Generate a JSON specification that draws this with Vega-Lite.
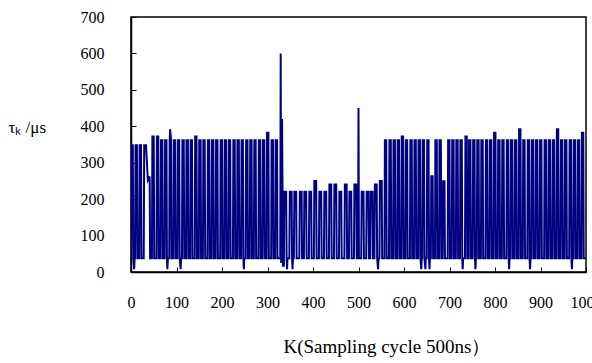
{
  "$schema": "https://vega.github.io/schema/vega-lite/v6.json",
  "autosize": {"type": "none"},
  "padding": {"left": 131, "top": 17, "right": 6, "bottom": 91},
  "width": 455,
  "height": 255,
  "background": "white",
  "view": {"stroke": "black", "strokeWidth": 1.5},
  "data": {"values": [
    {"k":0,"v":38},{"k":1,"v":348},{"k":4,"v":348},{"k":5,"v":38},{"k":7,"v":8},{"k":8,"v":38},
    {"k":9,"v":38},{"k":10,"v":348},{"k":13,"v":348},{"k":14,"v":38},
    {"k":18,"v":38},{"k":19,"v":348},{"k":22,"v":348},{"k":23,"v":38},
    {"k":28,"v":38},{"k":29,"v":348},{"k":33,"v":348},{"k":37,"v":252},{"k":41,"v":262},{"k":42,"v":38},
    {"k":46,"v":38},{"k":47,"v":372},{"k":50,"v":372},{"k":51,"v":38},
    {"k":56,"v":38},{"k":57,"v":372},{"k":60,"v":372},{"k":61,"v":38},
    {"k":65,"v":38},{"k":66,"v":362},{"k":69,"v":362},{"k":70,"v":38},
    {"k":74,"v":38},{"k":75,"v":362},{"k":78,"v":362},{"k":79,"v":38},{"k":80,"v":8},{"k":81,"v":38},
    {"k":84,"v":38},{"k":85,"v":362},{"k":86,"v":392},{"k":88,"v":362},{"k":89,"v":38},
    {"k":93,"v":38},{"k":94,"v":362},{"k":97,"v":362},{"k":98,"v":38},
    {"k":102,"v":38},{"k":103,"v":362},{"k":106,"v":362},{"k":107,"v":38},{"k":109,"v":8},{"k":110,"v":38},
    {"k":112,"v":38},{"k":113,"v":362},{"k":116,"v":362},{"k":117,"v":38},
    {"k":121,"v":38},{"k":122,"v":362},{"k":125,"v":362},{"k":126,"v":38},
    {"k":130,"v":38},{"k":131,"v":362},{"k":134,"v":362},{"k":135,"v":38},
    {"k":140,"v":38},{"k":141,"v":372},{"k":144,"v":372},{"k":145,"v":38},
    {"k":149,"v":38},{"k":150,"v":362},{"k":153,"v":362},{"k":154,"v":38},
    {"k":158,"v":38},{"k":159,"v":362},{"k":162,"v":362},{"k":163,"v":38},
    {"k":168,"v":38},{"k":169,"v":362},{"k":172,"v":362},{"k":173,"v":38},
    {"k":177,"v":38},{"k":178,"v":362},{"k":181,"v":362},{"k":182,"v":38},
    {"k":186,"v":38},{"k":187,"v":362},{"k":190,"v":362},{"k":191,"v":38},
    {"k":196,"v":38},{"k":197,"v":362},{"k":200,"v":362},{"k":201,"v":38},
    {"k":205,"v":38},{"k":206,"v":362},{"k":209,"v":362},{"k":210,"v":38},
    {"k":214,"v":38},{"k":215,"v":362},{"k":218,"v":362},{"k":219,"v":38},
    {"k":224,"v":38},{"k":225,"v":362},{"k":228,"v":362},{"k":229,"v":38},
    {"k":233,"v":38},{"k":234,"v":362},{"k":237,"v":362},{"k":238,"v":38},
    {"k":242,"v":38},{"k":243,"v":362},{"k":246,"v":362},{"k":247,"v":38},{"k":248,"v":8},{"k":249,"v":38},
    {"k":252,"v":38},{"k":253,"v":362},{"k":256,"v":362},{"k":257,"v":38},
    {"k":261,"v":38},{"k":262,"v":362},{"k":265,"v":362},{"k":266,"v":38},
    {"k":270,"v":38},{"k":271,"v":362},{"k":274,"v":362},{"k":275,"v":38},
    {"k":280,"v":38},{"k":281,"v":362},{"k":284,"v":362},{"k":285,"v":38},
    {"k":289,"v":38},{"k":290,"v":362},{"k":293,"v":362},{"k":294,"v":38},
    {"k":298,"v":38},{"k":299,"v":382},{"k":302,"v":382},{"k":303,"v":38},
    {"k":308,"v":38},{"k":309,"v":362},{"k":312,"v":362},{"k":313,"v":38},
    {"k":317,"v":38},{"k":318,"v":362},{"k":321,"v":362},{"k":322,"v":38},
    {"k":328,"v":38},{"k":329,"v":600},{"k":330,"v":25},{"k":332,"v":420},{"k":334,"v":17},
    {"k":336,"v":17},{"k":337,"v":220},{"k":341,"v":220},{"k":342,"v":38},{"k":343,"v":8},{"k":344,"v":38},
    {"k":348,"v":38},{"k":349,"v":220},{"k":353,"v":220},{"k":354,"v":38},{"k":355,"v":8},{"k":356,"v":38},
    {"k":358,"v":38},{"k":359,"v":220},{"k":363,"v":220},{"k":364,"v":38},
    {"k":370,"v":38},{"k":371,"v":220},{"k":375,"v":220},{"k":376,"v":38},
    {"k":380,"v":38},{"k":381,"v":220},{"k":385,"v":220},{"k":386,"v":38},
    {"k":391,"v":38},{"k":392,"v":220},{"k":396,"v":220},{"k":397,"v":38},
    {"k":402,"v":38},{"k":403,"v":250},{"k":407,"v":250},{"k":408,"v":38},
    {"k":413,"v":38},{"k":414,"v":220},{"k":418,"v":220},{"k":419,"v":38},
    {"k":424,"v":38},{"k":425,"v":220},{"k":429,"v":220},{"k":430,"v":38},
    {"k":435,"v":38},{"k":436,"v":240},{"k":440,"v":240},{"k":441,"v":38},
    {"k":446,"v":38},{"k":447,"v":240},{"k":451,"v":240},{"k":452,"v":38},
    {"k":457,"v":38},{"k":458,"v":220},{"k":462,"v":220},{"k":463,"v":38},
    {"k":469,"v":38},{"k":470,"v":240},{"k":474,"v":240},{"k":475,"v":38},
    {"k":479,"v":38},{"k":480,"v":220},{"k":484,"v":220},{"k":485,"v":38},
    {"k":490,"v":38},{"k":491,"v":240},{"k":495,"v":240},{"k":496,"v":38},
    {"k":499,"v":38},{"k":500,"v":450},{"k":501,"v":38},
    {"k":506,"v":38},{"k":507,"v":220},{"k":511,"v":220},{"k":512,"v":38},
    {"k":517,"v":38},{"k":518,"v":220},{"k":522,"v":220},{"k":523,"v":38},
    {"k":526,"v":38},{"k":527,"v":220},{"k":531,"v":220},{"k":532,"v":38},
    {"k":535,"v":38},{"k":536,"v":240},{"k":540,"v":240},{"k":541,"v":38},{"k":543,"v":8},{"k":544,"v":38},
    {"k":546,"v":38},{"k":547,"v":250},{"k":551,"v":250},{"k":552,"v":38},
    {"k":557,"v":38},{"k":558,"v":362},{"k":561,"v":362},{"k":562,"v":38},
    {"k":567,"v":38},{"k":568,"v":362},{"k":571,"v":362},{"k":572,"v":38},
    {"k":576,"v":38},{"k":577,"v":362},{"k":580,"v":362},{"k":581,"v":38},
    {"k":585,"v":38},{"k":586,"v":362},{"k":589,"v":362},{"k":590,"v":38},
    {"k":594,"v":38},{"k":595,"v":372},{"k":598,"v":372},{"k":599,"v":38},
    {"k":603,"v":38},{"k":604,"v":362},{"k":607,"v":362},{"k":608,"v":38},
    {"k":613,"v":38},{"k":614,"v":362},{"k":617,"v":362},{"k":618,"v":38},
    {"k":622,"v":38},{"k":623,"v":362},{"k":626,"v":362},{"k":627,"v":38},
    {"k":631,"v":38},{"k":632,"v":362},{"k":635,"v":362},{"k":636,"v":38},{"k":638,"v":8},{"k":639,"v":38},
    {"k":640,"v":38},{"k":641,"v":362},{"k":644,"v":362},{"k":645,"v":38},{"k":647,"v":8},{"k":648,"v":38},
    {"k":650,"v":38},{"k":651,"v":362},{"k":654,"v":362},{"k":655,"v":38},{"k":656,"v":8},{"k":657,"v":38},
    {"k":659,"v":38},{"k":660,"v":263},{"k":663,"v":263},{"k":664,"v":38},
    {"k":668,"v":38},{"k":669,"v":362},{"k":672,"v":362},{"k":673,"v":38},
    {"k":677,"v":38},{"k":678,"v":362},{"k":681,"v":362},{"k":682,"v":38},
    {"k":685,"v":38},{"k":686,"v":249},{"k":689,"v":249},{"k":690,"v":38},
    {"k":696,"v":38},{"k":697,"v":362},{"k":700,"v":362},{"k":701,"v":38},
    {"k":705,"v":38},{"k":706,"v":362},{"k":709,"v":362},{"k":710,"v":38},
    {"k":714,"v":38},{"k":715,"v":362},{"k":718,"v":362},{"k":719,"v":38},
    {"k":723,"v":38},{"k":724,"v":362},{"k":727,"v":362},{"k":728,"v":38},{"k":729,"v":8},{"k":730,"v":38},
    {"k":734,"v":38},{"k":735,"v":372},{"k":738,"v":372},{"k":739,"v":38},
    {"k":742,"v":38},{"k":743,"v":362},{"k":746,"v":362},{"k":747,"v":38},
    {"k":751,"v":38},{"k":752,"v":362},{"k":755,"v":362},{"k":756,"v":38},{"k":757,"v":8},{"k":758,"v":38},
    {"k":760,"v":38},{"k":761,"v":362},{"k":764,"v":362},{"k":765,"v":38},
    {"k":769,"v":38},{"k":770,"v":362},{"k":773,"v":362},{"k":774,"v":38},
    {"k":779,"v":38},{"k":780,"v":362},{"k":783,"v":362},{"k":784,"v":38},
    {"k":788,"v":38},{"k":789,"v":362},{"k":792,"v":362},{"k":793,"v":38},
    {"k":797,"v":38},{"k":798,"v":382},{"k":801,"v":382},{"k":802,"v":38},
    {"k":806,"v":38},{"k":807,"v":362},{"k":810,"v":362},{"k":811,"v":38},
    {"k":815,"v":38},{"k":816,"v":362},{"k":819,"v":362},{"k":820,"v":38},
    {"k":825,"v":38},{"k":826,"v":362},{"k":829,"v":362},{"k":830,"v":38},{"k":831,"v":8},{"k":832,"v":38},
    {"k":834,"v":38},{"k":835,"v":362},{"k":838,"v":362},{"k":839,"v":38},
    {"k":843,"v":38},{"k":844,"v":362},{"k":847,"v":362},{"k":848,"v":38},
    {"k":852,"v":38},{"k":853,"v":392},{"k":856,"v":392},{"k":857,"v":38},
    {"k":861,"v":38},{"k":862,"v":362},{"k":865,"v":362},{"k":866,"v":38},
    {"k":871,"v":38},{"k":872,"v":362},{"k":875,"v":362},{"k":876,"v":38},{"k":877,"v":8},{"k":878,"v":38},
    {"k":880,"v":38},{"k":881,"v":362},{"k":884,"v":362},{"k":885,"v":38},
    {"k":889,"v":38},{"k":890,"v":362},{"k":893,"v":362},{"k":894,"v":38},
    {"k":898,"v":38},{"k":899,"v":362},{"k":902,"v":362},{"k":903,"v":38},
    {"k":908,"v":38},{"k":909,"v":362},{"k":912,"v":362},{"k":913,"v":38},
    {"k":917,"v":38},{"k":918,"v":362},{"k":921,"v":362},{"k":922,"v":38},
    {"k":926,"v":38},{"k":927,"v":362},{"k":930,"v":362},{"k":931,"v":38},
    {"k":935,"v":38},{"k":936,"v":392},{"k":939,"v":392},{"k":940,"v":38},
    {"k":944,"v":38},{"k":945,"v":362},{"k":948,"v":362},{"k":949,"v":38},
    {"k":953,"v":38},{"k":954,"v":362},{"k":957,"v":362},{"k":958,"v":38},
    {"k":963,"v":38},{"k":964,"v":362},{"k":967,"v":362},{"k":968,"v":38},{"k":969,"v":8},{"k":970,"v":38},
    {"k":972,"v":38},{"k":973,"v":362},{"k":976,"v":362},{"k":977,"v":38},
    {"k":981,"v":38},{"k":982,"v":362},{"k":985,"v":362},{"k":986,"v":38},
    {"k":990,"v":38},{"k":991,"v":382},{"k":994,"v":382},{"k":995,"v":38},
    {"k":1000,"v":38}
  ]},
  "mark": {"type": "line", "color": "#000080", "strokeWidth": 2, "clip": true},
  "encoding": {
    "x": {
      "field": "k", "type": "quantitative",
      "scale": {"domain": [0, 1000], "nice": false, "zero": false},
      "axis": {
        "values": [0, 100, 200, 300, 400, 500, 600, 700, 800, 900, 1000],
        "format": "d",
        "title": "K(Sampling cycle 500ns）",
        "titleX": 152, "titleY": 80, "titleAlign": "left", "titleBaseline": "alphabetic",
        "titleFont": "Liberation Serif", "titleFontSize": 19,
        "labelFont": "Liberation Serif", "labelFontSize": 16,
        "labelPadding": 27, "labelBaseline": "top", "labelFlush": false
      }
    },
    "y": {
      "field": "v", "type": "quantitative",
      "scale": {"domain": [0, 700], "nice": false},
      "axis": {
        "values": [0, 100, 200, 300, 400, 500, 600, 700],
        "format": "d",
        "title": "τₖ /μs",
        "titleFont": "Liberation Serif", "titleFontSize": 17,
        "titleAngle": 0, "titleX": -123, "titleY": 110, "titleAlign": "left", "titleBaseline": "middle",
        "labelFont": "Liberation Serif", "labelFontSize": 16,
        "labelPadding": 32
      }
    }
  },
  "config": {
    "style": {"guide-label": {"font": "Liberation Serif", "fontSize": 16}, "guide-title": {"font": "Liberation Serif"}},
    "axis": {
      "grid": false,
      "domainColor": "black", "domainWidth": 1.5,
      "tickColor": "black", "tickSize": -5, "tickWidth": 1,
      "labelColor": "black", "labelFont": "Liberation Serif",
      "titleFontWeight": "normal", "titleColor": "black",
      "labelOverlap": false
    }
  }
}
